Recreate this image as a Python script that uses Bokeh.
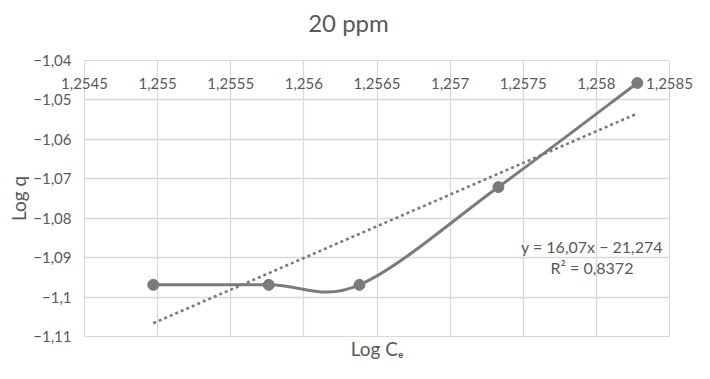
import math
import numpy as np
from bokeh.plotting import figure
from bokeh.layouts import column
from bokeh.models import Range1d, FixedTicker, CustomJSTickFormatter, Label, LinearAxis
from bokeh.core.properties import value
from bokeh.embed import file_html
from bokeh.resources import INLINE

# ---- data ----
log_ce = [1.25497, 1.25576, 1.25638, 1.25733, 1.25828]
log_q = [-1.0969, -1.0969, -1.0969, -1.0721, -1.0457]
x_ticks = [1.2545, 1.255, 1.2555, 1.256, 1.2565, 1.257, 1.2575, 1.258, 1.2585]
y_ticks = [-1.11, -1.10, -1.09, -1.08, -1.07, -1.06, -1.05, -1.04]
trend_slope = 16.07
trend_intercept = -21.274
title_text = "20 ppm"
x_title = "Log C\u2091"
y_title = "Log q"
eq_text = "y = 16,07x \u2212 21,274"
r2_text = "R\u00b2 = 0,8372"

FONT = "Lato"
TXT = "#595959"
GRID = "#d9d9d9"
SER = "#7b7b7b"
W = 694
TITLE_H = 45
MAIN_H = 318
FRAME_L = 84
FRAME_R = 669

# ---- title strip (its plot frame is aligned with the main chart's frame) ----
t = figure(width=W, height=TITLE_H, output_backend="svg", toolbar_location=None,
           x_range=Range1d(FRAME_L, FRAME_R), y_range=Range1d(TITLE_H, 0),
           x_axis_location=None, y_axis_location=None,
           min_border=0, min_border_left=FRAME_L, min_border_right=W - FRAME_R,
           min_border_top=0, min_border_bottom=0)
t.grid.visible = False
t.outline_line_color = None
t.background_fill_color = "white"
t.border_fill_color = "white"
t.text(x=[348], y=[22], text=[title_text], text_align="center", text_baseline="middle",
       text_font=value(FONT), text_font_size="24px", text_color=TXT)

# ---- main chart ----
p = figure(width=W, height=MAIN_H, output_backend="svg", toolbar_location=None,
           x_range=Range1d(x_ticks[0], x_ticks[-1]), y_range=Range1d(y_ticks[0], y_ticks[-1]),
           x_axis_location="above",
           min_border_left=FRAME_L, min_border_right=W - FRAME_R,
           min_border_top=60 - TITLE_H, min_border_bottom=27)
p.background_fill_color = "white"
p.border_fill_color = "white"
p.outline_line_color = GRID

# x axis on top (labels drawn just below the top edge, inside the plot area)
xa = p.xaxis[0]
xa.ticker = FixedTicker(ticks=x_ticks)
xa.formatter = CustomJSTickFormatter(code="return (Math.round(tick*10000)/10000).toString().replace('.', ',');")
xa.axis_line_color = None
xa.major_tick_line_color = None
xa.minor_tick_line_color = None
xa.major_tick_out = 0
xa.major_tick_in = 0
xa.major_label_standoff = -28
xa.major_label_text_font = FONT
xa.major_label_text_font_size = "15px"
xa.major_label_text_color = TXT

# bottom axis only carrying the title
xb = LinearAxis(ticker=FixedTicker(ticks=[]), axis_line_color=None,
                major_tick_line_color=None, minor_tick_line_color=None,
                major_tick_out=0, major_tick_in=0, major_label_text_color=None,
                axis_label=x_title, axis_label_standoff=0,
                axis_label_text_font=FONT, axis_label_text_font_size="19px",
                axis_label_text_font_style="normal", axis_label_text_color=TXT)
p.add_layout(xb, "below")

ya = p.yaxis[0]
ya.ticker = FixedTicker(ticks=y_ticks)
ya.formatter = CustomJSTickFormatter(code="return (Math.round(tick*100)/100).toString().replace('-', '\u2212').replace('.', ',');")
ya.axis_line_color = None
ya.major_tick_line_color = None
ya.minor_tick_line_color = None
ya.major_tick_out = 0
ya.major_tick_in = 0
ya.major_label_standoff = 13
ya.major_label_text_font = FONT
ya.major_label_text_font_size = "15px"
ya.major_label_text_color = TXT
ya.axis_label = y_title
ya.axis_label_standoff = 0
ya.axis_label_text_font = FONT
ya.axis_label_text_font_size = "19px"
ya.axis_label_text_font_style = "normal"
ya.axis_label_text_color = TXT

p.xgrid.ticker = FixedTicker(ticks=x_ticks)
p.ygrid.ticker = FixedTicker(ticks=y_ticks)
p.xgrid.grid_line_color = GRID
p.ygrid.grid_line_color = GRID
p.xgrid.grid_line_width = 1.3
p.ygrid.grid_line_width = 1.3

# trendline from the displayed equation
tx = [min(log_ce), max(log_ce)]
ty = [trend_slope * v + trend_intercept for v in tx]
p.line(tx, ty, line_color=SER, line_width=2.6, line_dash="3 3")

# smoothed series line (Catmull-Rom bezier segments through the data points)
xs = np.array(log_ce)
ys = np.array(log_q)
n = len(xs)
x0, y0, x1, y1, cx0, cy0, cx1, cy1 = [], [], [], [], [], [], [], []
for i in range(n - 1):
    im1 = max(i - 1, 0)
    ip2 = min(i + 2, n - 1)
    x0.append(xs[i]); y0.append(ys[i]); x1.append(xs[i + 1]); y1.append(ys[i + 1])
    cx0.append(xs[i] + (xs[i + 1] - xs[im1]) / 6); cy0.append(ys[i] + (ys[i + 1] - ys[im1]) / 6)
    cx1.append(xs[i + 1] - (xs[ip2] - xs[i]) / 6); cy1.append(ys[i + 1] - (ys[ip2] - ys[i]) / 6)
p.bezier(x0=x0, y0=y0, x1=x1, y1=y1, cx0=cx0, cy0=cy0, cx1=cx1, cy1=cy1,
         line_color=SER, line_width=3)
p.scatter(log_ce, log_q, size=11, fill_color=SER, line_color=SER)

# trendline equation
eq_x = 1.25797
p.add_layout(Label(x=eq_x, y=-1.0871, text=eq_text,
                   text_align="center", text_baseline="middle", text_font=FONT,
                   text_font_size="16px", text_color=TXT))
p.add_layout(Label(x=eq_x, y=-1.0925, text=r2_text,
                   text_align="center", text_baseline="middle", text_font=FONT,
                   text_font_size="16px", text_color=TXT))

layout = column(t, p, spacing=0)
open("out.html", "w").write(file_html(layout, INLINE))
